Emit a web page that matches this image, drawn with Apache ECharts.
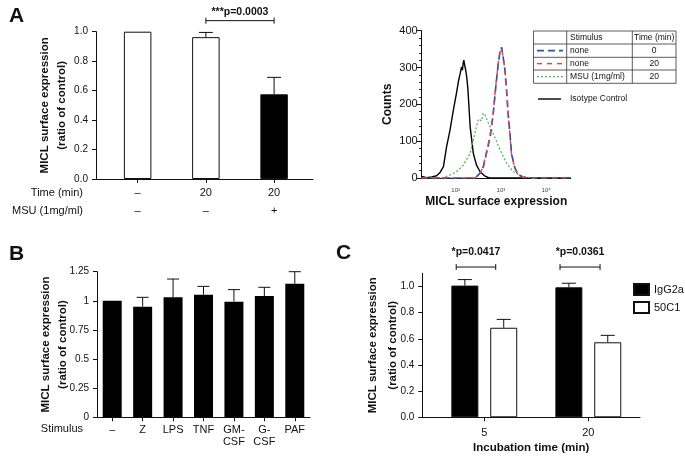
<!DOCTYPE html>
<html><head><meta charset="utf-8">
<script src="https://cdn.jsdelivr.net/npm/echarts@6/dist/echarts.min.js"></script>
<style>html,body{margin:0;padding:0;background:#fff}#c{width:685px;height:462px}</style>
</head><body><div id="c"></div>
<script>
const FONT = '"Liberation Sans", Arial, Helvetica, sans-serif';

// ---------- Panel A (left): bar chart ----------
const aTime = ['–', '20', '20'];
const aMSU = ['–', '–', '+'];
const aMean = [1.0, 0.963, 0.575];
const aErrTop = [null, 0.995, 0.69];
const aYTicks = [0, 0.2, 0.4, 0.6, 0.8, 1.0];
const aSigFrom = [1];
const aSigTo = [2];
const aSigY = [1.075];
const aSigTextY = [1.135];
const aSigText = ['***p=0.0003'];

// ---------- Panel A (right): histogram ----------
const histXTicks = [2, 3, 4];
const histXTickLabels = ['10²', '10³', '10⁴'];
const isotypeCurve = [[1.25,4],[1.36,1],[1.47,3],[1.58,6],[1.65,14],[1.73,31],[1.80,85],[1.875,130],[1.95,185],[2.02,232],[2.06,262],[2.10,284],[2.13,302],[2.15,293],[2.165,312],[2.18,320],[2.20,306],[2.22,294],[2.245,274],[2.27,242],[2.30,180],[2.32,139],[2.39,67],[2.46,35],[2.54,17],[2.65,5],[2.74,0],[3.2,0],[4.0,0],[4.54,0]];
const msuCurve = [[1.25,0],[1.69,0],[1.875,8],[2.02,17],[2.17,35],[2.32,67],[2.43,125],[2.50,160],[2.54,162],[2.57,155],[2.61,176],[2.65,170],[2.72,150],[2.83,121],[2.98,76],[3.13,40],[3.27,17],[3.42,8],[3.57,2],[3.68,0],[4.54,0]];
const none0Curve = [[1.25,0],[2.43,0],[2.54,13],[2.61,30],[2.68,67],[2.76,110],[2.83,175],[2.87,227],[2.90,264],[2.94,309],[2.98,345],[3.015,355],[3.05,327],[3.09,291],[3.125,236],[3.16,173],[3.20,118],[3.235,64],[3.31,27],[3.38,9],[3.49,2],[3.60,0],[4.54,0]];
const none20Curve = [[1.25,0],[2.43,0],[2.54,12],[2.61,32],[2.68,70],[2.76,115],[2.83,178],[2.87,230],[2.90,268],[2.94,312],[2.98,342],[3.01,352],[3.05,330],[3.09,288],[3.125,240],[3.16,170],[3.20,115],[3.235,62],[3.31,25],[3.38,8],[3.49,2],[3.60,0],[4.54,0]];
const histLegendStim = ['none', 'none', 'MSU (1mg/ml)'];
const histLegendTime = ['0', '20', '20'];

// ---------- Panel B ----------
const bStim = ['–', 'Z', 'LPS', 'TNF', 'GM-\nCSF', 'G-\nCSF', 'PAF'];
const bMean = [1.0, 0.95, 1.03, 1.053, 0.993, 1.041, 1.147];
const bErrTop = [null, 1.03, 1.187, 1.124, 1.096, 1.116, 1.25];

// ---------- Panel C ----------
const cTimes = ['5', '20'];
const cIgG = [1.006, 0.993];
const cIgGErr = [1.052, 1.024];
const c50C1 = [0.684, 0.573];
const c50C1Err = [0.748, 0.626];
const cYTicks = [0, 0.2, 0.4, 0.6, 0.8, 1.0];
const cSigFrom = [-0.27, 0.728];
const cSigTo = [0.11, 1.113];
const cSigY = [1.148];
const cSigTextY = [1.262];
const cSigText = ['*p=0.0417', '*p=0.0361'];

// ---------- helpers ----------
const BLACK = '#111';
function errRender(offset, cap) {
  return function (params, api) {
    const x = api.value(0), m = api.value(1), t = api.value(2);
    const p0 = api.coord([x, m]), p1 = api.coord([x, t]);
    const cx = p0[0] + offset;
    return { type: 'group', children: [
      { type: 'line', shape: { x1: cx, y1: p0[1], x2: cx, y2: p1[1] }, style: { stroke: BLACK, lineWidth: 1 } },
      { type: 'line', shape: { x1: cx - cap, y1: p1[1], x2: cx + cap, y2: p1[1] }, style: { stroke: BLACK, lineWidth: 1 } }
    ]};
  };
}
function sigRender(texts) {
  return function (params, api) {
    const x1 = api.value(0), x2 = api.value(1), y = api.value(2), ty = api.value(3);
    const a = api.coord([x1, y]), b = api.coord([x2, y]), t = api.coord([(x1 + x2) / 2, ty]);
    const ls = { stroke: BLACK, lineWidth: 1 };
    return { type: 'group', children: [
      { type: 'line', shape: { x1: a[0], y1: a[1], x2: b[0], y2: b[1] }, style: ls },
      { type: 'line', shape: { x1: a[0], y1: a[1] - 3, x2: a[0], y2: a[1] + 3 }, style: ls },
      { type: 'line', shape: { x1: b[0], y1: b[1] - 3, x2: b[0], y2: b[1] + 3 }, style: ls },
      { type: 'text', x: t[0], y: t[1], style: { text: texts[params.dataIndex], align: 'center', verticalAlign: 'middle', font: 'bold 10.5px ' + FONT, fill: BLACK } }
    ]};
  };
}
const axLine = { show: true, onZero: false, lineStyle: { color: BLACK, width: 1 } };
const axTick = { show: true, inside: false, length: 4, lineStyle: { color: BLACK, width: 1 } };
const tickLbl = { fontFamily: FONT, fontSize: 10, color: BLACK };
const yName = { fontFamily: FONT, fontSize: 11.5, fontWeight: 'bold', color: BLACK, lineHeight: 17 };

// bar layout constants for panel C
const cBarW = 27, cBarGap = 0.44;
const cOff = (cBarW + cBarW * cBarGap) / 2;

const chart = echarts.init(document.getElementById('c'), null, { renderer: 'canvas' });
const option = {
  animation: false,
  backgroundColor: '#fff',
  textStyle: { fontFamily: FONT },
  grid: [
    { left: 96, top: 31.7, width: 217, height: 147.3 },
    { left: 421.7, top: 30.7, width: 149, height: 147.3 },
    { left: 97, top: 271.7, width: 213, height: 145.6 },
    { left: 422.3, top: 273.3, width: 217.7, height: 144 }
  ],
  xAxis: [
    { type: 'value', gridIndex: 0, min: -0.61, max: 2.57, axisLine: axLine, splitLine: { show: false },
      axisTick: Object.assign({}, axTick, { customValues: [0, 1, 2] }),
      axisLabel: { customValues: [0, 1, 2], formatter: v => aTime[Math.round(v)] + '\n' + aMSU[Math.round(v)], fontFamily: FONT, fontSize: 11, color: BLACK, lineHeight: 18, margin: 5 } },
    { type: 'value', gridIndex: 1, min: 1.25, max: 4.54, axisLine: axLine, splitLine: { show: false }, axisTick: { show: false },
      axisLabel: { customValues: histXTicks, formatter: v => histXTickLabels[histXTicks.indexOf(Math.round(v))], fontFamily: FONT, fontSize: 6, color: '#444', margin: 9 },
      name: 'MICL surface expression', nameLocation: 'middle', nameGap: 18, nameMoveOverlap: false,
      nameTextStyle: { fontFamily: FONT, fontSize: 12, fontWeight: 'bold', color: BLACK } },
    { type: 'category', gridIndex: 2, data: bStim, axisLine: axLine,
      axisTick: Object.assign({}, axTick, { alignWithLabel: true }),
      axisLabel: { interval: 0, fontFamily: FONT, fontSize: 11, color: BLACK, lineHeight: 12.7, margin: 6 } },
    { type: 'value', gridIndex: 3, min: -0.596, max: 1.497, axisLine: axLine, splitLine: { show: false },
      axisTick: Object.assign({}, axTick, { customValues: [0, 1] }),
      axisLabel: { customValues: [0, 1], formatter: v => cTimes[Math.round(v)], fontFamily: FONT, fontSize: 11, color: BLACK, margin: 10 },
      name: 'Incubation time (min)', nameLocation: 'middle', nameGap: 25, nameMoveOverlap: false,
      nameTextStyle: { fontFamily: FONT, fontSize: 11.5, fontWeight: 'bold', color: BLACK } }
  ],
  yAxis: [
    { type: 'value', gridIndex: 0, min: 0, max: 1, interval: 0.2, axisLine: axLine, axisTick: axTick, splitLine: { show: false },
      axisLabel: Object.assign({}, tickLbl, { formatter: v => v.toFixed(1) }),
      name: 'MICL surface expression\n(ratio of control)', nameLocation: 'middle', nameGap: 25.5, nameMoveOverlap: false, nameTextStyle: yName },
    { type: 'value', gridIndex: 1, min: 0, max: 400, interval: 100, axisLine: axLine, splitLine: { show: false },
      axisTick: { show: true, length: 5, lineStyle: { color: BLACK } },
      minorTick: { show: true, splitNumber: 5, length: 2.5, lineStyle: { color: BLACK } },
      axisLabel: { fontFamily: FONT, fontSize: 11, color: BLACK, margin: 4 },
      name: 'Counts', nameLocation: 'middle', nameGap: 28.5, nameMoveOverlap: false,
      nameTextStyle: { fontFamily: FONT, fontSize: 12, fontWeight: 'bold', color: BLACK } },
    { type: 'value', gridIndex: 2, min: 0, max: 1.25, interval: 0.25, axisLine: axLine, axisTick: axTick, splitLine: { show: false },
      axisLabel: tickLbl,
      name: 'MICL surface expression\n(ratio of control)', nameLocation: 'middle', nameGap: 26, nameMoveOverlap: false, nameTextStyle: yName },
    { type: 'value', gridIndex: 3, min: 0, max: 1.1, axisLine: axLine, splitLine: { show: false },
      axisTick: Object.assign({}, axTick, { customValues: cYTicks }),
      axisLabel: Object.assign({}, tickLbl, { customValues: cYTicks, formatter: v => v.toFixed(1) }),
      name: 'MICL surface expression\n(ratio of control)', nameLocation: 'middle', nameGap: 19.5, nameMoveOverlap: false,
      nameTextStyle: Object.assign({}, yName, { lineHeight: 20 }) }
  ],
  legend: {
    data: ['IgG2a', '50C1'], orient: 'vertical', left: 628, top: 278,
    itemWidth: 15, itemHeight: 11, itemGap: 5, icon: 'rect',
    textStyle: { fontFamily: FONT, fontSize: 11, color: BLACK }
  },
  series: [
    // Panel A bars
    { type: 'bar', xAxisIndex: 0, yAxisIndex: 0, barWidth: 27.5,
      itemStyle: { borderColor: BLACK, borderWidth: 1 },
      data: aMean.map((v, i) => ({ value: [i, v], itemStyle: { color: aMSU[i] === '+' ? '#000' : '#fff' } })) },
    { type: 'custom', xAxisIndex: 0, yAxisIndex: 0, clip: false, renderItem: errRender(0, 7), encode: { x: 0, y: [1, 2] },
      data: aMean.map((v, i) => [i, v, aErrTop[i]]).filter(d => d[2] != null), z: 5 },
    { type: 'custom', xAxisIndex: 0, yAxisIndex: 0, clip: false, renderItem: sigRender(aSigText), encode: { x: [0, 1], y: 2 },
      data: aSigFrom.map((f, i) => [f, aSigTo[i], aSigY[i], aSigTextY[i]]) },
    // Histogram
    { name: 'Isotype Control', type: 'line', xAxisIndex: 1, yAxisIndex: 1, showSymbol: false, data: isotypeCurve,
      lineStyle: { color: '#000', width: 1.4 } },
    { name: 'MSU', type: 'line', xAxisIndex: 1, yAxisIndex: 1, showSymbol: false, data: msuCurve,
      lineStyle: { color: '#4cb050', width: 1.2, type: [2, 2] } },
    { name: 'none0', type: 'line', xAxisIndex: 1, yAxisIndex: 1, showSymbol: false, data: none0Curve,
      lineStyle: { color: '#2856a8', width: 1.7, type: [7, 4] } },
    { name: 'none20', type: 'line', xAxisIndex: 1, yAxisIndex: 1, showSymbol: false, data: none20Curve,
      lineStyle: { color: '#e0434c', width: 1.4, type: [5, 5] } },
    // Panel B
    { type: 'bar', xAxisIndex: 2, yAxisIndex: 2, barWidth: 19, itemStyle: { color: '#000' }, data: bMean },
    { type: 'custom', xAxisIndex: 2, yAxisIndex: 2, clip: false, renderItem: errRender(0, 6), encode: { x: 0, y: [1, 2] },
      data: bMean.map((v, i) => [i, v, bErrTop[i]]).filter(d => d[2] != null), z: 5 },
    // Panel C
    { name: 'IgG2a', type: 'bar', xAxisIndex: 3, yAxisIndex: 3, barWidth: cBarW, barGap: (cBarGap * 100) + '%',
      itemStyle: { color: '#000', borderColor: BLACK, borderWidth: 1 },
      data: cIgG.map((v, i) => [i, v]) },
    { name: '50C1', type: 'bar', xAxisIndex: 3, yAxisIndex: 3, barWidth: cBarW, barGap: (cBarGap * 100) + '%',
      itemStyle: { color: '#fff', borderColor: BLACK, borderWidth: 1 },
      data: c50C1.map((v, i) => [i, v]) },
    { type: 'custom', xAxisIndex: 3, yAxisIndex: 3, clip: false, renderItem: errRender(-cOff, 7), encode: { x: 0, y: [1, 2] },
      data: cIgG.map((v, i) => [i, v, cIgGErr[i]]), z: 5 },
    { type: 'custom', xAxisIndex: 3, yAxisIndex: 3, clip: false, renderItem: errRender(cOff, 7), encode: { x: 0, y: [1, 2] },
      data: c50C1.map((v, i) => [i, v, c50C1Err[i]]), z: 5 },
    { type: 'custom', xAxisIndex: 3, yAxisIndex: 3, clip: false, renderItem: sigRender(cSigText), encode: { x: [0, 1], y: 2 },
      data: cSigFrom.map((f, i) => [f, cSigTo[i], cSigY[0], cSigTextY[0]]) }
  ],
  graphic: buildGraphics()
};

function buildGraphics() {
  const g = [];
  const txt = (x, y, s, font, align) => ({ type: 'text', x, y, silent: true,
    style: { text: s, font, fill: BLACK, align: align || 'left', verticalAlign: 'middle' } });
  // panel letters
  g.push(txt(9, 16, 'A', 'bold 21px ' + FONT));
  g.push(txt(9, 254, 'B', 'bold 21px ' + FONT));
  g.push(txt(336, 253, 'C', 'bold 21px ' + FONT));
  // row titles
  g.push(txt(83, 192.7, 'Time (min)', '11px ' + FONT, 'right'));
  g.push(txt(83, 210.7, 'MSU (1mg/ml)', '11px ' + FONT, 'right'));
  g.push(txt(83, 429, 'Stimulus', '11px ' + FONT, 'right'));
  // histogram legend table
  const L = 533.5, R = 676, C1 = 566.7, C2 = 632.3;
  const rows = [31, 44, 57.3, 70, 83.3];
  const border = { stroke: '#333', lineWidth: 0.8, fill: null };
  g.push({ type: 'rect', shape: { x: L, y: rows[0], width: R - L, height: rows[4] - rows[0] }, style: border, silent: true });
  for (let i = 1; i < 4; i++) g.push({ type: 'line', shape: { x1: L, y1: rows[i], x2: R, y2: rows[i] }, style: border, silent: true });
  g.push({ type: 'line', shape: { x1: C1, y1: rows[0], x2: C1, y2: rows[4] }, style: border, silent: true });
  g.push({ type: 'line', shape: { x1: C2, y1: rows[0], x2: C2, y2: rows[4] }, style: border, silent: true });
  const f9 = '8.5px ' + FONT;
  g.push(txt(570, (rows[0] + rows[1]) / 2, 'Stimulus', f9));
  g.push(txt((C2 + R) / 2, (rows[0] + rows[1]) / 2, 'Time (min)', f9, 'center'));
  const styles = [
    { stroke: '#2856a8', lineWidth: 1.7, lineDash: [7, 4] },
    { stroke: '#e0434c', lineWidth: 1.4, lineDash: [5, 5] },
    { stroke: '#4cb050', lineWidth: 1.2, lineDash: [2, 2] }
  ];
  for (let i = 0; i < 3; i++) {
    const cy = (rows[i + 1] + rows[i + 2]) / 2;
    g.push({ type: 'line', shape: { x1: 537, y1: cy, x2: 563, y2: cy }, style: styles[i], silent: true });
    g.push(txt(570, cy, histLegendStim[i], f9));
    g.push(txt((C2 + R) / 2, cy, histLegendTime[i], f9, 'center'));
  }
  g.push({ type: 'line', shape: { x1: 538, y1: 99, x2: 561, y2: 99 }, style: { stroke: '#000', lineWidth: 1.4 }, silent: true });
  g.push(txt(570, 99, 'Isotype Control', f9));
  return g;
}

chart.setOption(option);
</script>
</body></html>
